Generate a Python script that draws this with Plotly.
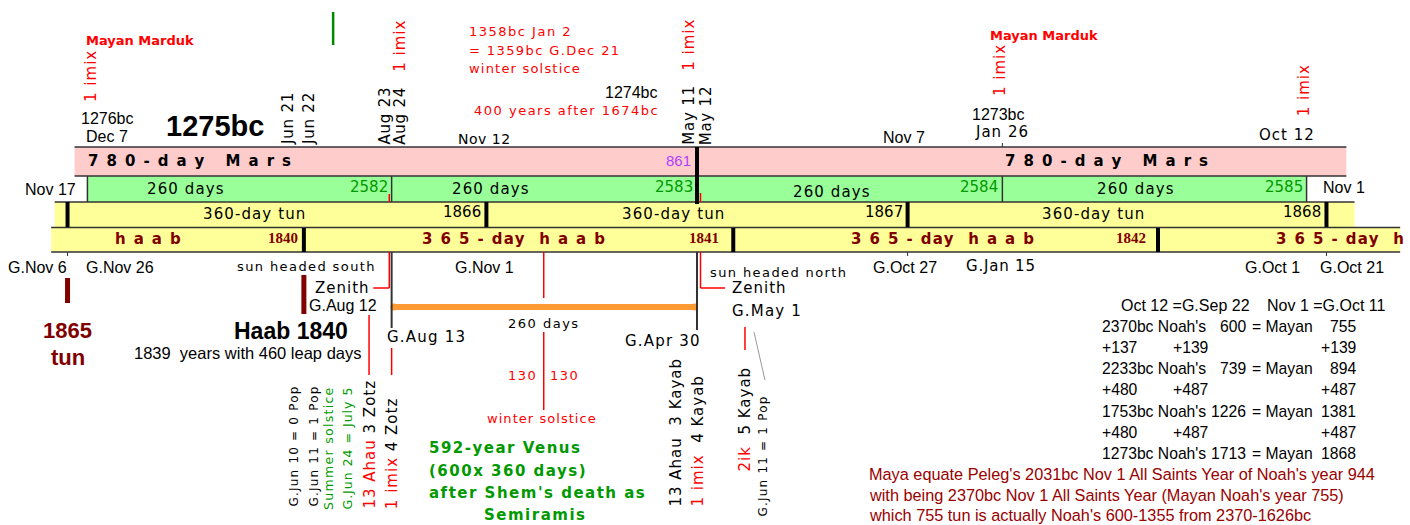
import plotly.graph_objects as go

# ------------------------------------------------------------------
# DATA - x positions are days counted from 1274bc May 11/12
# (the Tzolkin 2583 boundary)
# ------------------------------------------------------------------
MARS_SPAN = [-532, 555]
MARS_ENDS = [0]
MARS_NUMS = ["861"]
MARS_LABEL_DAYS = [-433, 350]

TZOLKIN_ENDS = [-521, -261, 0, 261, 521]
TZOLKIN_NUMS = ["2582", "2583", "2584", "2585"]          # shown at ENDS[1:]
TZOLKIN_LABEL_DAYS = [-437, -176, 115, 375]

TUN_SPAN = [-549, 562]
TUN_ENDS = [-538, -180, 180, 538]
TUN_NUMS = ["1865", "1866", "1867", "1868"]
TUN_LABEL_DAYS = [-378, -20, 339]

HAAB_SPAN = [-552, 601]
HAAB_ENDS = [-336, 31, 394]
HAAB_NUMS = ["1840", "1841", "1842"]
HAAB_NUM_DAYS = [-340, 20, 385]
HAAB_LABEL_DAYS = [-469, -156, 210]
HAAB_LABELS = ["h a a b", "3 6 5 - day  h a a b", "3 6 5 - day  h a a b"]
HAAB_LAST_LABEL = ("3 6 5 - day  h", 494)

VENUS_260_SPAN = [-259, -2]      # 260 days G.Aug 13 .. G.Apr 30
SOLSTICE_DAY = -131              # 130 | 130
ZENITH_DAYS = [-263, 3]          # G.Aug 12 / G.May 1 zenith passages

TOP_DATES = [   # (day, text)
    (-504, "1276bc"), (-504, "Dec 7"), (-182, "Nov 12"), (177, "Nov 7"),
    (258, "1273bc"), (261, "Jan 26"),
]
ROT_TOP_DATES = [(-350, "Jun 21"), (-332, "Jun 22"), (-267, "Aug 23"),
                 (-254, "Aug 24"), (-7, "May 11"), (8, "May 12")]
IMIX_DAYS = [-518, -254, -7, 259, 519]
G_DATES = [(-564, "G.Nov 6"), (-493, "G.Nov 26"), (-182, "G.Nov 1"),
           (178, "G.Oct 27"), (492, "G.Oct 1"), (560, "G.Oct 21")]

TABLE_LEFT = ["2370bc Noah's", "+137", "2233bc Noah's", "+480",
              "1753bc Noah's", "+480", "1273bc Noah's"]
TABLE_NOAH = ["600", "+139", "739", "+487", "1226", "+487", "1713"]
TABLE_MAYAN = ["755", "+139", "894", "+487", "1381", "+487", "1868"]
NOTE_LINES = [
    "Maya equate Peleg's 2031bc Nov 1 All Saints Year of Noah's year 944",
    "with being 2370bc Nov 1 All Saints Year (Mayan Noah's year 755)",
    "which 755 tun is actually Noah's 600-1355 from 2370-1626bc",
]
VENUS_LINES = ["592-year Venus", "(600x 360 days)", "after Shem's death as"]

# ------------------------------------------------------------------
# LAYOUT / STYLE
# ------------------------------------------------------------------
W, H = 1410, 525
K = 1.17            # pixels per day
X0 = 697            # canvas position of day 0
X_RANGE = [-X0 / K, (W - X0) / K]

ARIAL = "Arial, Liberation Sans, sans-serif"
VERD = "Verdana, DejaVu Sans, sans-serif"
SERIF = "Times New Roman, Liberation Serif, serif"
RED = "#ff0000"
GREEN = "#009900"
MAROON = "#800000"
DARK = "#333333"

MARS_Y = (147, 176)
TZ_Y = (176, 202)
TUN_Y = (202, 227)
HAAB_Y = (228, 252)

shapes = []
annotations = []


def rect(x0, x1, y0, y1, color):
    shapes.append(dict(type="rect", xref="x", yref="y", x0=x0, x1=x1, y0=y0, y1=y1,
                       fillcolor=color, line=dict(width=0), layer="below"))


def seg(x0, y0, x1, y1, color=DARK, width=1.5):
    shapes.append(dict(type="line", xref="x", yref="y", x0=x0, x1=x1, y0=y0, y1=y1,
                       line=dict(color=color, width=width), layer="above"))


def ann(d, y, text, size, color="black", family=ARIAL, xa="center", ya="middle",
        angle=0, bold=False, ls=0):
    if ls:
        text = f"<span style='letter-spacing:{ls}px'>{text}</span>"
    annotations.append(dict(
        x=d, y=y, xref="x", yref="y", text=text, showarrow=False,
        xanchor=xa, yanchor=ya, textangle=angle, borderpad=0,
        font=dict(size=size, color=color, family=family,
                  weight="bold" if bold else "normal")))


def sp(text, color=None, ls=1):
    c = f"color:{color};" if color else ""
    return f"<span style='{c}letter-spacing:{ls}px'>{text}</span>"


# ---------------- bands ----------------
rect(MARS_SPAN[0], MARS_SPAN[1], *MARS_Y, "#ffcccc")
rect(TZOLKIN_ENDS[0], TZOLKIN_ENDS[-1], *TZ_Y, "#99ff99")
rect(TUN_SPAN[0], TUN_SPAN[1], *TUN_Y, "#ffff99")
rect(HAAB_SPAN[0], HAAB_SPAN[1], *HAAB_Y, "#ffff99")

seg(MARS_SPAN[0], MARS_Y[0], MARS_SPAN[1], MARS_Y[0])
seg(MARS_SPAN[0], MARS_Y[1], MARS_SPAN[1], MARS_Y[1])
seg(TUN_SPAN[0], TUN_Y[0], TUN_SPAN[1], TUN_Y[0])
seg(HAAB_SPAN[0], HAAB_Y[0] - 0.5, HAAB_SPAN[1], HAAB_Y[0] - 0.5)
seg(HAAB_SPAN[0], HAAB_Y[1], HAAB_SPAN[1], HAAB_Y[1])

for d in TZOLKIN_ENDS:
    if d != 0:
        seg(d, TZ_Y[0], d, TZ_Y[1])
for d in MARS_ENDS:
    seg(d, MARS_Y[0], d, TZ_Y[1] + 2, "black", 4)
for d in TUN_ENDS:
    seg(d, TUN_Y[0], d, TUN_Y[1], "black", 4)
for d in HAAB_ENDS:
    seg(d, HAAB_Y[0], d, HAAB_Y[1], "black", 4)
# small ticks
for d in (TUN_ENDS[0], TUN_ENDS[2], TUN_ENDS[3]):
    seg(d, HAAB_Y[1], d, HAAB_Y[1] + 4, DARK, 1)
seg(TZOLKIN_ENDS[3], MARS_Y[0] - 4, TZOLKIN_ENDS[3], MARS_Y[0], DARK, 1)

# band texts
mars_txt = "7 8 0 - d a y   M a r s"
for d in MARS_LABEL_DAYS:
    ann(d, 161, mars_txt, 15, "black", VERD, bold=True, ls=1.4)
for d, t in zip(MARS_ENDS, MARS_NUMS):
    ann(d - 4, 160, t, 15, "#b040ff", ARIAL, xa="right")

for i, d in enumerate(TZOLKIN_LABEL_DAYS):
    ann(d, 189 + (3 if i == 2 else 0), "260 days", 15, "black", VERD, ls=1.1)
for d, t in zip(TZOLKIN_ENDS[1:], TZOLKIN_NUMS):
    ann(d - 2.5, 187, t, 15, GREEN, VERD, xa="right")
ann(TZOLKIN_ENDS[0] - 9, 189, "Nov 17", 16, "black", ARIAL, xa="right")
ann(TZOLKIN_ENDS[-1] + 13, 187, "Nov 1", 16, "black", ARIAL, xa="left")

for d in TUN_LABEL_DAYS:
    ann(d, 214, "360-day tun", 15, "black", VERD, ls=1.1)
for d, t in zip(TUN_ENDS[1:], TUN_NUMS[1:]):
    ann(d - 3.5, 212, t, 15, "black", VERD, xa="right")

for d, t in zip(HAAB_LABEL_DAYS, HAAB_LABELS):
    ann(d, 239, t, 15, MAROON, VERD, bold=True, ls=1.4)
ann(HAAB_LAST_LABEL[1], 239, HAAB_LAST_LABEL[0], 15, MAROON, VERD, xa="left",
    bold=True, ls=1.4)
for d, t in zip(HAAB_NUM_DAYS, HAAB_NUMS):
    ann(d, 238, t, 15, MAROON, SERIF, xa="right", bold=True)

# ---------------- top area ----------------
ann(-476.5, 40, "Mayan Marduk", 13, RED, VERD, bold=True)
ann(296.6, 35, "Mayan Marduk", 13, RED, VERD, bold=True)
seg(-311, 12, -311, 45, "#008800", 2.5)
for d, yb in zip(IMIX_DAYS, [103, 73, 72, 97, 117]):
    ann(d, yb, "1 imix", 15, RED, VERD, ya="bottom", angle=-90, ls=1)
for d, t in ROT_TOP_DATES:
    ann(d, 146, t, 15, "black", VERD, ya="bottom", angle=-90, ls=0.8)
ann(TOP_DATES[0][0], 118, TOP_DATES[0][1], 16)
ann(TOP_DATES[1][0], 136, TOP_DATES[1][1], 16)
ann(-412, 126, "1275bc", 29, bold=True)
ann(TOP_DATES[2][0], 139, TOP_DATES[2][1], 14, family=VERD, ls=0.5)
ann(TOP_DATES[3][0], 137, TOP_DATES[3][1], 16)
ann(TOP_DATES[4][0], 114, TOP_DATES[4][1], 16)
ann(TOP_DATES[5][0], 132, TOP_DATES[5][1], 15, family=VERD, ls=1)
ann(504, 135, "Oct 12", 15, family=VERD, ls=1)

ann(-196, 31, "1358bc Jan 2", 13, RED, VERD, xa="left", ls=1.5)
ann(-196, 50, "= 1359bc G.Dec 21", 13, RED, VERD, xa="left", ls=1.4)
ann(-196, 68, "winter solstice", 13, RED, VERD, xa="left", ls=1.2)
ann(-32.5, 92, "1274bc", 16, xa="right")
ann(-31.6, 110, "400 years after 1674bc", 13, RED, VERD, xa="right", ls=1.5)

# ---------------- below the bands ----------------
for d, t in G_DATES:
    ann(d, 267, t, 16)
ann(260, 266, "G.Jan 15", 15, family=VERD, ls=0.8)

# 1865 tun marker
seg(TUN_ENDS[0], 278, TUN_ENDS[0], 303, MAROON, 5)
ann(TUN_ENDS[0], 330, TUN_NUMS[0], 22, MAROON, bold=True)
ann(TUN_ENDS[0], 357, "tun", 22, MAROON, bold=True)

# Haab 1840 marker
seg(HAAB_ENDS[0], 275, HAAB_ENDS[0], 314, MAROON, 5)
ann(-346.6, 331, "Haab " + HAAB_NUMS[0], 23, bold=True)
ann(-286, 353, "1839  years with 460 leap days", 16.5, xa="right")

# zenith (south)
zs, zn = ZENITH_DAYS
seg(zs, TZ_Y[1] - 8, zs, TZ_Y[1], RED, 1.5)
seg(zs, HAAB_Y[1], zs, 288, RED, 1.5)
seg(zs, 288, zs - 13.7, 288, RED, 1.5)
ann(-273.5, 266, "sun headed south", 13, family=VERD, xa="right", ls=1.4)
ann(zs - 16, 288, "Zenith", 15, family=VERD, xa="right", ls=1)
ann(-272.6, 305, "G.Aug 12", 16, xa="right")

# 260-day interval
t0, t1 = TZOLKIN_ENDS[1], TZOLKIN_ENDS[2]
seg(t0, HAAB_Y[1], t0, 328, DARK, 2)
seg(t1, HAAB_Y[1], t1, 330, DARK, 2)
ann(t0 - 5, 337, "G.Aug 13", 15, family=VERD, xa="left", ls=1.2)
ann(t1 + 4, 341, "G.Apr 30", 15, family=VERD, xa="right", ls=1.2)
seg(SOLSTICE_DAY, HAAB_Y[1], SOLSTICE_DAY, 298, RED, 1.5)
seg(SOLSTICE_DAY, 332, SOLSTICE_DAY, 410, RED, 1.5)
ann(SOLSTICE_DAY, 323, "260 days", 13, family=VERD, ls=1.5)
ann(SOLSTICE_DAY - 5, 375, "130", 13, RED, VERD, xa="right", ls=1.5)
ann(SOLSTICE_DAY + 4.5, 375, "130", 13, RED, VERD, xa="left", ls=1.5)
ann(SOLSTICE_DAY - 1.5, 418, "winter solstice", 13, RED, VERD, ls=1.05)

# zenith (north)
seg(zn, TZ_Y[1] - 9, zn, TZ_Y[1], RED, 1.5)
seg(zn, HAAB_Y[1], zn, 288, RED, 1.5)
seg(zn, 288, zn + 21, 288, RED, 1.5)
ann(zn + 7.5, 272, "sun headed north", 13, family=VERD, xa="left", ls=1.4)
ann(zn + 26, 288, "Zenith", 15, family=VERD, xa="left", ls=1)
ann(zn + 26, 311, "G.May 1", 15, family=VERD, xa="left", ls=1.2)
seg(41, 327, 41, 350, RED, 1.5)
seg(48.7, 332, 58.1, 380, "#999999", 1)

# rotated day names
seg(-280.3, 315, -280.3, 375, RED, 1.5)
seg(t0, 348, t0, 375, RED, 1.5)
ann(-345.3, 508, "G.Jun 10 = 0 Pop", 12, family=VERD, ya="bottom", angle=-90, ls=1.2)
ann(-328.2, 508, "G.Jun 11 = 1 Pop", 12, family=VERD, ya="bottom", angle=-90, ls=1.2)
ann(-315.4, 511, "Summer solstice", 12.5, GREEN, VERD, ya="bottom", angle=-90, ls=1.3)
ann(-299.1, 511, "G.Jun 24 = July 5", 12.5, GREEN, VERD, ya="bottom", angle=-90, ls=1.0)
ann(-280.3, 510, sp("13 Ahau", RED) + sp(" 3 Zotz"), 15, family=VERD, ya="bottom", angle=-90)
ann(t0, 510, sp("1 imix", RED) + sp(" 4 Zotz"), 15, family=VERD, ya="bottom", angle=-90)
ann(-18.8, 508, sp("13 Ahau  3 Kayab"), 15, family=VERD, ya="bottom", angle=-90)
ann(t1, 508, sp("1 imix", RED) + sp("  4 Kayab"), 15, family=VERD, ya="bottom", angle=-90)
ann(41, 472, sp("2ik", RED) + sp("  5 Kayab"), 15, family=VERD, ya="bottom", angle=-90)
ann(56.4, 517, "G.Jun 11 = 1 Pop", 12, family=VERD, ya="bottom", angle=-90, ls=1.2)

# Venus note
for i, t in enumerate(VENUS_LINES):
    ann(-230, 448 + 22.5 * i, t, 15, GREEN, VERD, xa="left", bold=True, ls=1.5)
ann(-183, 515, "Semiramis", 15, GREEN, VERD, xa="left", bold=True, ls=1.5)

# ---------------- right table ----------------
ann(361.5, 305, "Oct 12 =G.Sep 22", 16, xa="left")
ann(486, 305, "Nov 1 =G.Oct 11", 16, xa="left")
for i, (a, b, c) in enumerate(zip(TABLE_LEFT, TABLE_NOAH, TABLE_MAYAN)):
    y = 326 + 21.3 * i
    ann(345.3, y, a, 15.7, xa="left")
    if b.startswith("+"):
        ann(406, y, b, 15.7, xa="left")
    else:
        ann(470.5, y, b, 15.7, xa="right")
        ann(473.5, y, "= Mayan", 15.7, xa="left")
    ann(564.1, y, c, 15.7, xa="right")
for i, t in enumerate(NOTE_LINES):
    ann(146.2, 474 + 20.5 * i, t, 16.3, "#990000", xa="left")

# ---------------- figure ----------------
fig = go.Figure()
fig.add_trace(go.Scatter(
    x=VENUS_260_SPAN, y=[307, 307], mode="lines+markers",
    line=dict(color="#ff9933", width=6),
    marker=dict(color="#ff9933", size=7, symbol="circle"),
    hoverinfo="skip", showlegend=False))

fig.update_layout(
    width=W, height=H, margin=dict(l=0, r=0, t=0, b=0),
    paper_bgcolor="white", plot_bgcolor="white", showlegend=False,
    xaxis=dict(range=X_RANGE, visible=False, fixedrange=True),
    yaxis=dict(range=[H, 0], visible=False, fixedrange=True),
    shapes=shapes, annotations=annotations, hovermode=False,
)
fig.write_html("out.html", config={"displayModeBar": False},
               post_script="document.body.style.margin='0';")
